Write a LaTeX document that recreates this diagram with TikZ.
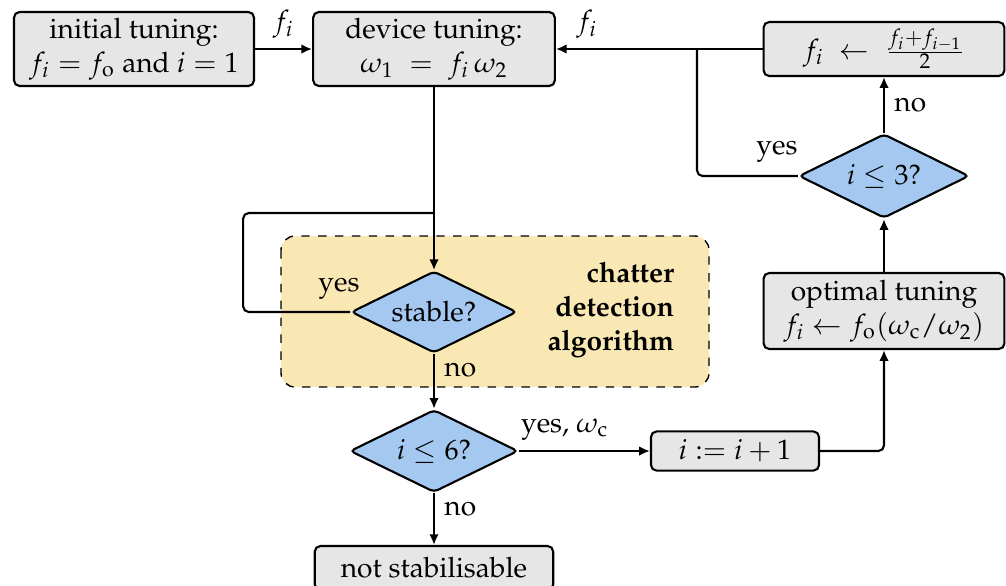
\documentclass[tikz,border=0pt]{standalone}
\usepackage[T1]{fontenc}
\usepackage{amsmath}
\usepackage{amssymb}
\usepackage{mathpazo}
\usepackage{tikz}
\usetikzlibrary{arrows.meta,shapes.geometric,calc}
\newcommand{\om}{\omega}
\newcommand{\rmsub}[1]{\mathrm{#1}}
\definecolor{boxgrey}{RGB}{230,230,230}
\definecolor{decblue}{RGB}{164,200,240}
\definecolor{algyellow}{RGB}{250,232,180}
\pgfdeclarelayer{background}
\pgfsetlayers{background,main}

\begin{document}
\begin{tikzpicture}[x=0.0125cm,y=-0.0125cm,
    box/.style={draw,fill=boxgrey,rounded corners=2pt,line width=0.75pt,align=center,inner sep=2pt},
    decision/.style={draw,fill=decblue,diamond,aspect=2,inner sep=0pt,line width=0.75pt,rounded corners=1.5pt},
    flow/.style={line width=0.75pt,-{Latex[length=3.8pt,width=3.4pt]},rounded corners=2pt},
    link/.style={line width=0.75pt,rounded corners=2pt}]
            \useasboundingbox (0,0) rectangle (1006,585);

            \node[box,minimum width=3cm,minimum height=0.925cm] (init) at (134,49) {initial tuning:\\ $f_i = f_{\rmsub{o}}$ and $i = 1$};
            \node[box,minimum width=3.02cm,minimum height=0.925cm] (device) at (434,49) {device tuning:\\ $\om_1 \;=\; f_i\,\om_2$};
            \node[box,minimum width=3.01cm,minimum height=0.675cm] (update) at (884,49) {$f_i \;\leftarrow\; \tfrac{f_i+f_{i-1}}{2}$};
            \node[decision,minimum width=2.125cm,minimum height=1.05cm] (check3) at (884,176) {$i \leq 3$?};
            \node[box,minimum width=3.01cm,minimum height=0.95cm] (optimal) at (884,311) {optimal tuning\\ $f_i \leftarrow f_{\rmsub{o}}(\om_{\rmsub{c}}/\om_2)$};
            \node[decision,minimum width=2.07cm,minimum height=1.02cm] (stable) at (434,312) {stable?};
            \node[decision,minimum width=2.1cm,minimum height=1.03cm] (check6) at (434,451) {$i \leq 6$?};
            \node[box,minimum width=2.1cm,minimum height=0.49cm] (incr) at (735,451) {$i := i+1$};
            \node[box,minimum width=2.98cm,minimum height=0.55cm] (nostab) at (434,568) {not stabilisable};

            \coordinate (jright) at (697,49);
            \coordinate (jleft) at (434,213);

            \node[anchor=east,font=\bfseries,align=right] (algo) at (684,310) {chatter\\ detection\\ algorithm};
            \begin{pgfonlayer}{background}
                \draw[dashed,fill=algyellow,rounded corners=5pt,line width=0.5pt] (281,236) rectangle (709,387);
            \end{pgfonlayer}

            \draw[flow] (init) to node[above] {$f_i$} (device);
            \draw[flow] (update.west) to node[pos=0.85,above] {$f_i$} (device.east);
            \draw[link] (check3.west) -| (jright);
            \node at (777,152) {yes};
            \draw[flow] (check3.north) to node[right] {no} (update.south);
            \draw[flow] (optimal.north) to (check3.south);
            \draw[flow] (device.south) to (stable.north);
            \draw[link] (stable.west) -- ++(-107,0) |- (jleft);
            \node at (339,289) {yes};
            \draw[flow] (stable.south) to node[pos=0.3,right] {no} (check6.north);
            \draw[flow] (check6.east) to node[pos=0.35,above] {yes, $\om_{\rmsub{c}}$} (incr.west);
            \draw[flow] (incr.east) -| (optimal.south);
            \draw[flow] (check6.south) to node[pos=0.3,right] {no} (nostab.north);
        \end{tikzpicture}
\end{document}
